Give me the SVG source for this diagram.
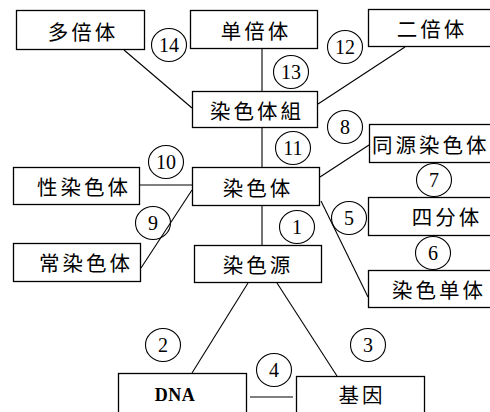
<svg xmlns="http://www.w3.org/2000/svg" width="490" height="412" viewBox="0 0 490 412">
<style>
.box{fill:#fff;stroke:#000;stroke-width:1.3}
.t{font-family:"Noto Sans CJK SC","Noto Sans CJK JP",sans-serif;font-size:20.5px;letter-spacing:3px;fill:#000;text-anchor:middle;dominant-baseline:central}
.c{fill:none;stroke:#000;stroke-width:1.1}
.n{font-family:"Liberation Serif",serif;font-size:20px;fill:#000;text-anchor:middle;dominant-baseline:central}
.ln{stroke:#000;stroke-width:1.1;fill:none}
</style>
<rect width="490" height="412" fill="#fff"/>
<g id="connectors">
<line class="ln" x1="124" y1="50" x2="192" y2="108"/>
<line class="ln" x1="262" y1="49" x2="262" y2="91"/>
<line class="ln" x1="405" y1="47" x2="318" y2="104"/>
<line class="ln" x1="262" y1="128" x2="262" y2="167"/>
<line class="ln" x1="140" y1="185" x2="192" y2="185"/>
<line class="ln" x1="141" y1="268" x2="192" y2="190"/>
<line class="ln" x1="320" y1="177" x2="369" y2="145"/>
<line class="ln" x1="321" y1="201" x2="368" y2="297"/>
<line class="ln" x1="262" y1="206" x2="262" y2="245"/>
<line class="ln" x1="248" y1="283" x2="192" y2="373"/>
<line class="ln" x1="277" y1="283" x2="337" y2="376"/>
<line class="ln" x1="250" y1="397" x2="293" y2="397"/>
</g>
<g id="n-duobeiti"><rect class="box" x="16.5" y="10.5" width="128" height="39"/><text class="t" x="83" y="31">多倍体</text></g>
<g id="n-danbeiti"><rect class="box" x="190.5" y="10.5" width="127" height="38"/><text class="t" x="256" y="30">单倍体</text></g>
<g id="n-erbeiti"><rect class="box" x="368.5" y="9.5" width="130" height="37"/><text class="t" x="432" y="28">二倍体</text></g>
<g id="n-ranseitizu"><rect class="box" x="192.5" y="91.5" width="125" height="36"/><text class="t" x="257" y="110">染色体組</text></g>
<g id="n-xingranseti"><rect class="box" x="13.5" y="167.5" width="126" height="37"/><text class="t" x="84" y="186">性染色体</text></g>
<g id="n-ranseti"><rect class="box" x="192.5" y="167.5" width="127" height="38"/><text class="t" x="258" y="187">染色体</text></g>
<g id="n-tongyuan"><rect class="box" x="369.5" y="124.5" width="130" height="38"/><text class="t" x="372" y="144" style="text-anchor:start">同源染色体</text></g>
<g id="n-sifenti"><rect class="box" x="368.5" y="197.5" width="130" height="38"/><text class="t" x="447" y="216">四分体</text></g>
<g id="n-changranseti"><rect class="box" x="13.5" y="243.5" width="127" height="38"/><text class="t" x="86" y="262">常染色体</text></g>
<g id="n-ransexyuan"><rect class="box" x="194.5" y="245.5" width="127" height="37"/><text class="t" x="258" y="264">染色源</text></g>
<g id="n-randanti"><rect class="box" x="368.5" y="270.5" width="130" height="37"/><text class="t" x="439" y="289">染色单体</text></g>
<g id="n-dna"><rect class="box" x="118.5" y="373.5" width="128" height="50"/><text x="175" y="395" style="font-family:'Liberation Serif',serif;font-size:18px;font-weight:bold;text-anchor:middle;dominant-baseline:central;letter-spacing:0.5px">DNA</text></g>
<g id="n-jiyin"><rect class="box" x="296.5" y="376.5" width="128" height="50"/><text class="t" x="362" y="394">基因</text></g>
<g id="labels">
<ellipse class="c" cx="169" cy="45" rx="17.5" ry="16.5"/><text class="n" x="169" y="45">14</text>
<ellipse class="c" cx="345" cy="47" rx="17.5" ry="16.5"/><text class="n" x="345" y="47">12</text>
<ellipse class="c" cx="291" cy="72" rx="17.5" ry="16.5"/><text class="n" x="291" y="72">13</text>
<ellipse class="c" cx="345" cy="127" rx="17.5" ry="16.5"/><text class="n" x="345" y="127">8</text>
<ellipse class="c" cx="166" cy="162" rx="17.5" ry="16.5"/><text class="n" x="166" y="162">10</text>
<ellipse class="c" cx="293" cy="148" rx="17.5" ry="16.5"/><text class="n" x="293" y="148">11</text>
<ellipse class="c" cx="153" cy="223" rx="17.5" ry="16.5"/><text class="n" x="153" y="223">9</text>
<ellipse class="c" cx="434" cy="180" rx="17.5" ry="16.5"/><text class="n" x="434" y="180">7</text>
<ellipse class="c" cx="349" cy="218" rx="17.5" ry="16.5"/><text class="n" x="349" y="218">5</text>
<ellipse class="c" cx="297" cy="227" rx="17.5" ry="16.5"/><text class="n" x="297" y="227">1</text>
<ellipse class="c" cx="433" cy="253" rx="17.5" ry="16.5"/><text class="n" x="433" y="253">6</text>
<ellipse class="c" cx="163" cy="345" rx="17.5" ry="16.5"/><text class="n" x="163" y="345">2</text>
<ellipse class="c" cx="368" cy="345" rx="17.5" ry="16.5"/><text class="n" x="368" y="345">3</text>
<ellipse class="c" cx="274" cy="370" rx="17.5" ry="16.5"/><text class="n" x="274" y="370">4</text>
</g>
</svg>
